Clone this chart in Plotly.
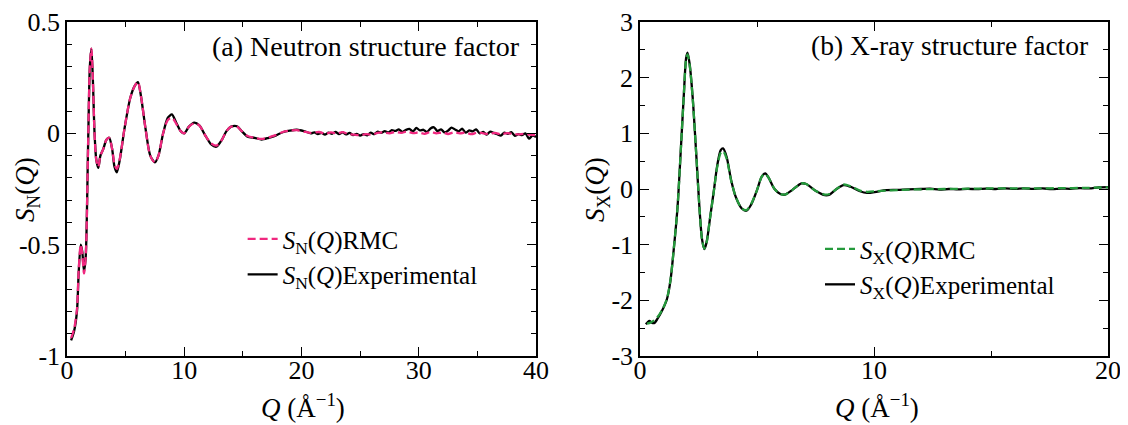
import plotly.graph_objects as go

# ---------------- data: (a) neutron structure factor ----------------
qn_exp = [0.35, 0.6, 0.85, 1.0, 1.17, 1.3, 1.45, 1.6, 1.8, 1.95, 2.08, 2.2, 2.35, 2.5, 2.67,
          2.85, 3.1, 3.35, 3.6, 3.85, 4.05, 4.25, 4.5, 4.9, 5.4, 5.8, 6.05, 6.3, 6.7, 7.1,
          7.5, 7.8, 8.2, 8.6, 8.95, 9.3, 9.7, 10.0, 10.4, 10.85, 11.3, 11.8, 12.3, 12.75,
          13.2, 13.6, 14.0, 14.5, 14.9, 15.4, 16.0, 16.6, 17.2, 17.8, 18.4, 19.0, 19.6,
          20.2, 20.8,
          21.1, 21.4, 21.7, 22.0, 22.3, 22.6, 22.9, 23.2, 23.5, 23.8, 24.1, 24.4, 24.7,
          25.0, 25.3, 25.6, 25.9, 26.2, 26.5, 26.8, 27.1, 27.4, 27.7, 28.0, 28.3, 28.6,
          28.9, 29.2, 29.5, 29.8, 30.1, 30.4, 30.7, 31.0, 31.3, 31.6, 31.9, 32.2, 32.5,
          32.8, 33.1, 33.4, 33.7, 34.0, 34.3, 34.6, 34.9, 35.2, 35.5, 35.8, 36.1, 36.4,
          36.7, 37.0, 37.3, 37.6, 37.9, 38.2, 38.5, 38.8, 39.1, 39.4, 39.7, 40.0]
sn_exp = [-0.93, -0.89, -0.80, -0.62, -0.50, -0.53, -0.62, -0.55, -0.05, 0.30, 0.38, 0.25,
          0.0, -0.12, -0.155, -0.10, -0.07, -0.03, -0.02, -0.07, -0.15, -0.175, -0.12, 0.02,
          0.16, 0.215, 0.23, 0.17, 0.02, -0.10, -0.13, -0.10, 0.0, 0.07, 0.085, 0.05, 0.01,
          0.0, 0.03, 0.048, 0.035, -0.01, -0.05, -0.06, -0.03, 0.01, 0.03, 0.032, 0.01,
          -0.015, -0.02, -0.028, -0.02, -0.01, 0.005, 0.012, 0.016, 0.01, 0.0,
          0.004, -0.004, 0.002, -0.006, 0.003, -0.002, 0.006, -0.003, 0.004, -0.005, 0.002,
          -0.008, -0.002, -0.010, -0.004, -0.009, 0.003, -0.004, 0.008, 0.002,
          0.010, 0.004, 0.014, 0.011, 0.018, 0.006, 0.015, 0.020, 0.009, 0.024, 0.013,
          0.016, 0.005, 0.022, 0.027, 0.010, 0.018, 0.004, 0.012, 0.026, 0.017, 0.009,
          0.021, 0.003, 0.013, 0.009, 0.018, 0.000, 0.006, -0.006, 0.008, 0.002, -0.004,
          -0.010, 0.003, -0.002, 0.005, -0.011, -0.004, -0.008, 0.000, -0.024, -0.010,
          -0.016]

qn_rmc = [0.35, 0.6, 0.85, 1.0, 1.17, 1.3, 1.45, 1.6, 1.8, 1.95, 2.08, 2.2, 2.35, 2.5, 2.67,
          2.85, 3.1, 3.35, 3.6, 3.85, 4.05, 4.25, 4.5, 4.9, 5.4, 5.8, 6.05, 6.3, 6.7, 7.1,
          7.5, 7.8, 8.2, 8.6, 8.95, 9.3, 9.7, 10.0, 10.4, 10.85, 11.3, 11.8, 12.3, 12.75,
          13.2, 13.6, 14.0, 14.5, 14.9, 15.4, 16.0, 16.6, 17.2, 17.8, 18.4, 19.0, 19.6,
          20.2, 20.8, 21.5, 22.0, 22.5, 23.0, 23.5, 24.0, 24.5, 25.0, 25.5, 26.0, 26.5,
          27.0, 27.5, 28.0, 28.5, 29.0, 29.5, 30.0, 30.5, 31.0, 31.5, 32.0, 32.5, 33.0,
          33.5, 34.0, 34.5, 35.0, 35.5, 36.0, 36.5, 37.0, 37.5, 38.0, 38.5, 39.0, 39.5, 40.0]
sn_rmc = [-0.92, -0.88, -0.79, -0.61, -0.50, -0.54, -0.63, -0.55, -0.05, 0.30, 0.38, 0.25,
          0.0, -0.12, -0.15, -0.10, -0.07, -0.03, -0.02, -0.07, -0.14, -0.16, -0.115, 0.02,
          0.16, 0.215, 0.23, 0.17, 0.02, -0.10, -0.13, -0.10, 0.0, 0.06, 0.07, 0.045, 0.01,
          0.0, 0.03, 0.045, 0.035, -0.01, -0.045, -0.055, -0.03, 0.01, 0.03, 0.03, 0.01,
          -0.012, -0.02, -0.025, -0.018, -0.008, 0.006, 0.012, 0.014, 0.008, 0.002,
          0.006, -0.002, 0.004, 0.0, 0.005, -0.003, -0.006, -0.008, -0.004, -0.006, 0.002,
          0.004, 0.0, 0.006, 0.002, 0.008, 0.001, 0.004, -0.002, 0.006, 0.0, 0.004, -0.003,
          0.004, 0.0, 0.003, -0.004, 0.004, 0.0, -0.003, 0.002, -0.004, 0.001, -0.002, -0.005,
          -0.002, -0.006, -0.008]

# ---------------- data: (b) X-ray structure factor ----------------
qx_exp = [0.25, 0.4, 0.5, 0.6, 0.75, 0.95, 1.15, 1.3, 1.45, 1.6, 1.75, 1.88, 1.97, 2.03,
          2.12, 2.25, 2.4, 2.55, 2.65, 2.75, 2.85, 3.0, 3.15, 3.3, 3.45, 3.55, 3.7, 3.9,
          4.1, 4.35, 4.55, 4.75, 5.0, 5.2, 5.35, 5.5, 5.75, 6.0, 6.2, 6.5, 6.9, 7.1, 7.5,
          7.9, 8.1, 8.4, 8.7, 9.0, 9.4, 9.7, 10.1, 10.5, 11.0, 11.5, 12.0, 12.4, 12.8,
          13.2, 13.6, 14.0, 14.4, 14.8, 15.2, 15.6, 16.0, 16.4, 16.8, 17.2, 17.6, 18.0,
          18.4, 18.8, 19.2, 19.6, 20.0]
sx_exp = [-2.43, -2.37, -2.40, -2.41, -2.33, -2.18, -1.98, -1.65, -1.05, -0.35, 0.75, 1.75,
          2.35, 2.45, 2.25, 1.65, 0.65, -0.40, -0.90, -1.08, -0.95, -0.50, -0.05, 0.42,
          0.70, 0.73, 0.58, 0.15, -0.15, -0.35, -0.39, -0.28, -0.02, 0.22, 0.28, 0.20, 0.0,
          -0.09, -0.10, -0.02, 0.10, 0.09, -0.03, -0.11, -0.10, 0.0, 0.07, 0.04, -0.04,
          -0.07, -0.05, -0.02, -0.015, -0.005, 0.0, 0.005, -0.01, 0.0, -0.008, 0.004,
          -0.004, 0.008, 0.0, 0.01, 0.002, 0.012, 0.004, 0.01, -0.002, 0.008, 0.004, 0.016,
          0.01, 0.03, 0.035]

qx_rmc = [0.3, 0.45, 0.6, 0.75, 0.95, 1.15, 1.3, 1.45, 1.6, 1.75, 1.88, 1.97, 2.03, 2.12,
          2.25, 2.4, 2.55, 2.65, 2.75, 2.85, 3.0, 3.15, 3.3, 3.45, 3.55, 3.7, 3.9, 4.1,
          4.35, 4.55, 4.75, 5.0, 5.2, 5.35, 5.5, 5.75, 6.0, 6.2, 6.5, 6.9, 7.1, 7.5, 7.9,
          8.1, 8.4, 8.7, 9.0, 9.4, 9.7, 10.1, 10.5, 11.0, 11.5, 12.0, 13.0, 14.0, 15.0,
          16.0, 17.0, 18.0, 19.0, 20.0]
sx_rmc = [-2.42, -2.40, -2.36, -2.30, -2.17, -1.97, -1.64, -1.05, -0.35, 0.75, 1.74, 2.33,
          2.42, 2.23, 1.64, 0.65, -0.40, -0.90, -1.07, -0.95, -0.50, -0.06, 0.40, 0.65,
          0.68, 0.55, 0.14, -0.15, -0.35, -0.38, -0.27, -0.02, 0.22, 0.27, 0.20, 0.0,
          -0.09, -0.10, -0.02, 0.10, 0.09, -0.03, -0.10, -0.09, 0.0, 0.08, 0.05, -0.03,
          -0.05, -0.04, -0.03, -0.02, -0.01, -0.005, 0.0, 0.005, 0.01, 0.01, 0.01, 0.015,
          0.02, 0.03]

yn_ticks = [-1, -0.5, 0, 0.5]
yn_labels = ["-1", "-0.5", "0", "0.5"]
yx_ticks = [-3, -2, -1, 0, 1, 2, 3]
yx_labels = ["-3", "-2", "-1", "0", "1", "2", "3"]

PINK = "#F0287F"
GREEN = "#259A3C"
FONT = "Liberation Serif"

# page has an 8px body margin; size the figure so it fills the 1128x425 window
W, H, OFF = 1120, 417, 8


def px(p):  # window x pixel -> paper x
    return (p - OFF) / W


def py(p):  # window y pixel -> paper y
    return 1 - (p - OFF) / H


fig = go.Figure()
fig.add_trace(go.Scatter(x=qn_exp, y=sn_exp, mode="lines", xaxis="x", yaxis="y",
                         line=dict(color="black", width=2.3, shape="spline", smoothing=0.7),
                         name="<i>S</i><sub>N</sub>(<i>Q</i>)Experimental", legend="legend"))
fig.add_trace(go.Scatter(x=qn_rmc, y=sn_rmc, mode="lines", xaxis="x", yaxis="y",
                         line=dict(color=PINK, width=2.3, dash="8px,4px", shape="spline", smoothing=0.8),
                         name="<i>S</i><sub>N</sub>(<i>Q</i>)RMC", legend="legend"))
fig.add_trace(go.Scatter(x=qx_exp, y=sx_exp, mode="lines", xaxis="x2", yaxis="y2",
                         line=dict(color="black", width=2.3, shape="spline", smoothing=0.8),
                         name="<i>S</i><sub>X</sub>(<i>Q</i>)Experimental", legend="legend2"))
fig.add_trace(go.Scatter(x=qx_rmc, y=sx_rmc, mode="lines", xaxis="x2", yaxis="y2",
                         line=dict(color=GREEN, width=2.3, dash="8px,4px", shape="spline", smoothing=0.8),
                         name="<i>S</i><sub>X</sub>(<i>Q</i>)RMC", legend="legend2"))

axis_common = dict(showline=True, linecolor="black", linewidth=1.5, mirror="ticks",
                   ticks="inside", ticklen=9, tickwidth=1.3, tickcolor="black",
                   showgrid=False, zeroline=False, automargin=False,
                   tickfont=dict(family=FONT, size=26, color="black"))
minor_common = dict(ticks="inside", ticklen=5, tickwidth=1.2, tickcolor="black", showgrid=False)

ydom = [py(356), py(22)]
legfont = dict(family=FONT, size=25, color="black")
fig.update_layout(
    width=W, height=H, margin=dict(l=0, r=0, t=0, b=0, autoexpand=False),
    paper_bgcolor="white", plot_bgcolor="white",
    font=dict(family=FONT, size=26, color="black"),
    xaxis=dict(domain=[px(67), px(536)], range=[0, 40], tickvals=[0, 10, 20, 30, 40],
               minor=dict(dtick=5, **minor_common), anchor="y", ticklabelstandoff=-10,
               **axis_common),
    yaxis=dict(domain=ydom, range=[-1, 0.5], tickvals=yn_ticks, ticktext=yn_labels,
               minor=dict(dtick=0.1, **minor_common), anchor="x", **axis_common),
    xaxis2=dict(domain=[px(640), px(1108)], range=[0, 20], tickvals=[0, 10, 20],
                minor=dict(dtick=5, **minor_common), anchor="y2", ticklabelstandoff=-10,
                **axis_common),
    yaxis2=dict(domain=ydom, range=[-3, 3], tickvals=yx_ticks, ticktext=yx_labels,
                minor=dict(dtick=0.5, **minor_common), anchor="x2", **axis_common),
    legend=dict(x=0.2095, y=0.501, xanchor="left", yanchor="top", traceorder="reversed",
                bgcolor="rgba(0,0,0,0)", font=legfont, tracegroupgap=0, itemwidth=30),
    legend2=dict(x=0.725, y=0.477, xanchor="left", yanchor="top", traceorder="reversed",
                 bgcolor="rgba(0,0,0,0)", font=legfont, tracegroupgap=0, itemwidth=30),
    showlegend=True,
)

ann = [
    dict(text="(a) Neutron structure factor", x=px(522), y=py(47), xanchor="right",
         yanchor="middle", font=dict(size=28)),
    dict(text="(b) X-ray structure factor", x=px(1090), y=py(45), xanchor="right",
         yanchor="middle", font=dict(size=27.5)),
    dict(text="<i>S</i><sub>N</sub>(<i>Q</i>)", x=px(27), y=py(190), textangle=-90,
         xanchor="center", yanchor="middle", font=dict(size=27)),
    dict(text="<i>S</i><sub>X</sub>(<i>Q</i>)", x=px(597), y=py(190), textangle=-90,
         xanchor="center", yanchor="middle", font=dict(size=27)),
    dict(text="<i>Q</i> (Å<sup>−1</sup>)", x=px(303), y=py(406), xanchor="center",
         yanchor="middle", font=dict(size=27)),
    dict(text="<i>Q</i> (Å<sup>−1</sup>)", x=px(877), y=py(406), xanchor="center",
         yanchor="middle", font=dict(size=27)),
]
for a in ann:
    a.update(xref="paper", yref="paper", showarrow=False)
    a["font"].update(family=FONT, color="black")
fig.update_layout(annotations=ann)

fig.write_html("out.html")
